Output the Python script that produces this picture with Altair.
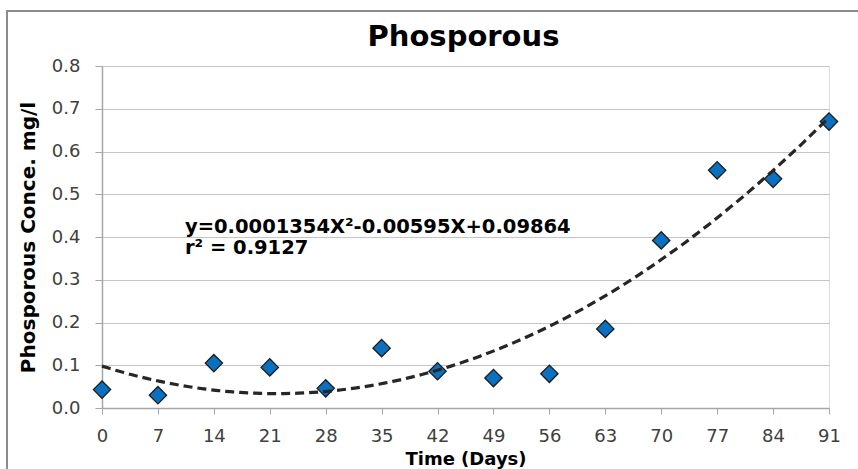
import altair as alt
import pandas as pd

days = [0, 7, 14, 21, 28, 35, 42, 49, 56, 63, 70, 77, 84, 91]
phosphorus = [0.043, 0.030, 0.105, 0.095, 0.046, 0.140, 0.086, 0.070, 0.080, 0.185, 0.392, 0.556, 0.536, 0.670]
y_ticks = [0.0, 0.1, 0.2, 0.3, 0.4, 0.5, 0.6, 0.7, 0.8]
annotation_lines = ["y=0.0001354X²-0.00595X+0.09864", "r² = 0.9127"]
chart_title = "Phosporous"

df = pd.DataFrame({"day": days, "value": phosphorus})
one = pd.DataFrame({"k": [0]})

FONT = "DejaVu Sans"
W, H = 727, 342

x_enc = alt.X("day:Q",
              scale=alt.Scale(domain=[0, 91], nice=False, zero=True),
              axis=alt.Axis(values=days, title="Time (Days)", grid=False,
                            labelFontSize=18, labelColor="#404040", labelFont=FONT,
                            labelPadding=13, tickSize=6, tickColor="#a6a6a6",
                            domainColor="#a6a6a6", domainWidth=1.5,
                            titleFont=FONT, titleFontSize=18, titleFontWeight="bold",
                            titleColor="#000000", titlePadding=5, labelFlush=False))
y_enc = alt.Y("value:Q",
              scale=alt.Scale(domain=[0, 0.8], nice=False),
              axis=alt.Axis(values=y_ticks, format=".1f", title="Phosporous Conce. mg/l",
                            grid=True, gridColor="#c4c4c4", gridWidth=1.2,
                            labelFontSize=18, labelColor="#404040", labelFont=FONT,
                            labelPadding=15, tickSize=7, tickColor="#a6a6a6",
                            domainColor="#a6a6a6", domainWidth=1.5,
                            titleFont=FONT, titleFontSize=20, titleFontWeight="bold",
                            titleColor="#000000", titleAngle=-90,
                            titleX=-74, titleY=H / 2, titleAlign="center",
                            titleBaseline="middle", labelFlush=False))

frame = alt.Chart(one).mark_rect(fill=None, stroke="#8c8c8c", strokeWidth=2, clip=False).encode(
    x=alt.value(-95), x2=alt.value(W + 60), y=alt.value(-55), y2=alt.value(H + 100)
)

points = alt.Chart(df).mark_point(shape="diamond", filled=True, size=300,
                                  fill="#0a70c0", stroke="#1c1c1c", strokeWidth=1.3,
                                  opacity=1).encode(x=x_enc, y=y_enc)

trend = alt.Chart(df).transform_regression(
    "day", "value", method="poly", order=2, extent=[0, 91]
).mark_line(color="#262626", strokeWidth=3.2, strokeDash=[9, 5]).encode(
    x=alt.X("day:Q"), y=alt.Y("value:Q")
)

annot = alt.Chart(one).mark_text(align="left", baseline="alphabetic", font=FONT,
                                 fontWeight="bold", fontSize=19.5, lineHeight=21,
                                 color="#000000").encode(
    x=alt.value(83), y=alt.value(167), text=alt.value(annotation_lines)
)

title_mark = alt.Chart(one).mark_text(align="center", baseline="alphabetic", font=FONT,
                                      fontWeight="bold", fontSize=29, color="#000000").encode(
    x=alt.value(W / 2 - 2), y=alt.value(-20), text=alt.value(chart_title)
)

chart = alt.layer(frame, points, trend, annot, title_mark).properties(
    width=W, height=H,
    autosize=alt.AutoSizeParams(type="none"),
    padding={"left": 102, "top": 66, "right": 29, "bottom": 61},
).configure_view(stroke=None).configure(background="white")

chart.save("out.html", embed_options={"renderer": "svg", "actions": False})
